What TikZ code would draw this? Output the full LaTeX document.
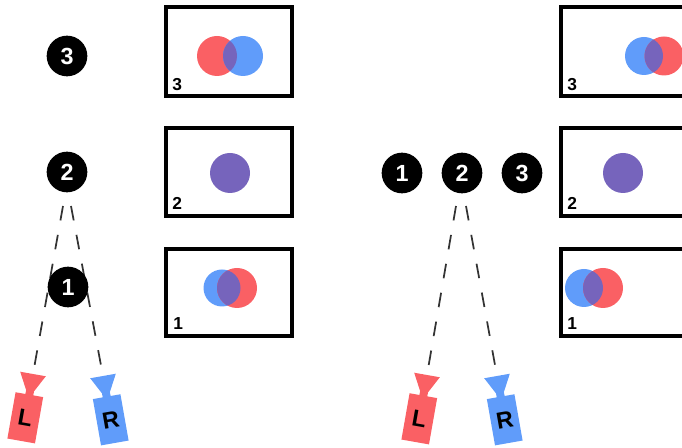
\documentclass[tikz,border=0pt]{standalone}
\usepackage{fontspec}
\setmainfont{Liberation Sans}
\definecolor{cred}{RGB}{250,96,100}
\definecolor{cblue}{RGB}{96,156,250}
\definecolor{cpurple}{RGB}{118,100,188}
\tikzset{
  num/.style={circle,fill=black,minimum size=30.5pt,inner sep=0pt,text=white,font=\fontsize{17.5}{17.5}\selectfont\bfseries},
  frame/.style={draw=black,line width=2.4pt},
  flabel/.style={anchor=south west,inner sep=0pt,font=\fontsize{13}{13}\selectfont\bfseries},
  ray/.style={draw=black!80,line width=1.3pt,dash pattern=on 11pt off 11pt},
  pics/camera/.style args={#1/#2}{code={
    \fill[#1] (-13,0) -- (13,0) -- (4,17) -- (4,21) -- (14,21) -- (14,68)
      -- (-14,68) -- (-14,21) -- (-4,21) -- (-4,17) -- cycle;
    \node[transform shape,inner sep=0pt,text=black,font=\fontsize{17.5}{17.5}\selectfont\bfseries] at (0,45) {#2};
  }}
}
\begin{document}
\begin{tikzpicture}[x=0.75pt,y=-0.75pt]
\useasboundingbox (0,0) rectangle (682,448);
\clip (0,0) rectangle (682,448);

% ---------- left panel ----------
\draw[frame] (166,7) rectangle (292,96);
\draw[frame] (166,128) rectangle (292,216);
\draw[frame] (166,249) rectangle (292,336);
\node[flabel] (lb3) at (172,91) {3};
\node[flabel] (lb2) at (172,210) {2};
\node[flabel] (lb1) at (173,330) {1};

\fill[cred] (217,56) circle (20);
\fill[cblue] (243,56) circle (20);
\begin{scope}\clip (217,56) circle (20); \fill[cpurple] (243,56) circle (20);\end{scope}
\fill[cpurple] (230,173) circle (20);
\fill[cblue] (222,288) circle (18.5);
\fill[cred] (237,288) circle (20);
\begin{scope}\clip (222,288) circle (18.5); \fill[cpurple] (237,288) circle (20);\end{scope}

\coordinate (la) at (63,206);
\coordinate (lb) at (71,206);
\coordinate (tipLL) at (33,374);
\coordinate (tipLR) at (103,376);
\draw[ray] (la) -- (tipLL);
\draw[ray] (lb) -- (tipLR);
\node[num] (c3L) at (67,56) {3};
\node[num] (c2L) at (67,172) {2};
\node[num] (c1L) at (68,287) {1};
\pic[rotate=-10] at (tipLL) {camera=cred/L};
\pic[rotate=10] at (tipLR) {camera=cblue/R};

% ---------- right panel ----------
\draw[frame] (561,7) rectangle (720,96);
\draw[frame] (561,128) rectangle (720,216);
\draw[frame] (561,249) rectangle (720,336);
\node[flabel] (rb3) at (567,91) {3};
\node[flabel] (rb2) at (567,210) {2};
\node[flabel] (rb1) at (567,330) {1};

\fill[cblue] (644,56) circle (19);
\fill[cred] (664,56) circle (19.5);
\begin{scope}\clip (644,56) circle (19); \fill[cpurple] (664,56) circle (19.5);\end{scope}
\fill[cpurple] (623,173) circle (20);
\fill[cblue] (584,288) circle (19);
\fill[cred] (603,288) circle (20);
\begin{scope}\clip (584,288) circle (19); \fill[cpurple] (603,288) circle (20);\end{scope}

\coordinate (ra) at (456,206);
\coordinate (rb) at (466,206);
\coordinate (tipRL) at (427,375);
\coordinate (tipRR) at (497,376);
\draw[ray] (ra) -- (tipRL);
\draw[ray] (rb) -- (tipRR);
\node[num] (c1R) at (402,173) {1};
\node[num] (c2R) at (462,173) {2};
\node[num] (c3R) at (522,173) {3};
\pic[rotate=-10] at (tipRL) {camera=cred/L};
\pic[rotate=10] at (tipRR) {camera=cblue/R};
\end{tikzpicture}
\end{document}
